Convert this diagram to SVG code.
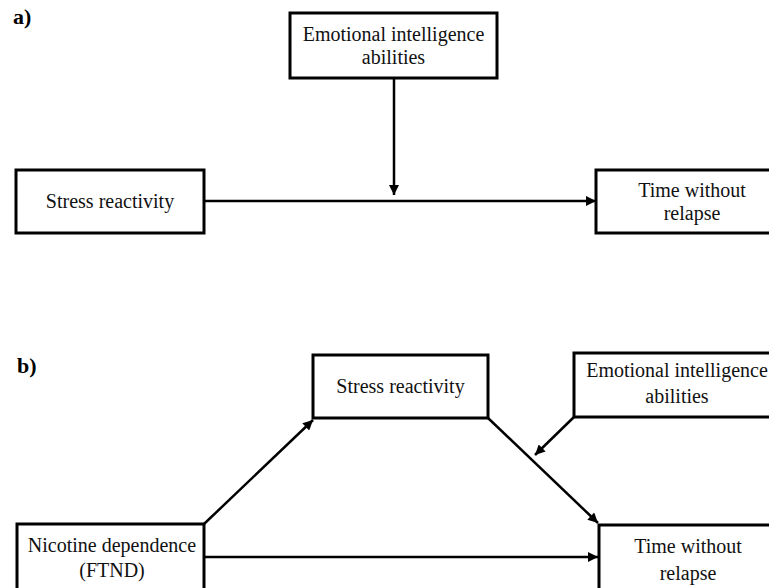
<svg xmlns="http://www.w3.org/2000/svg" width="769" height="588" viewBox="0 0 769 588">
<defs>
<style>
.box{fill:#fff;stroke:#000;stroke-width:3}
.t{font-family:"Liberation Serif","Times New Roman",serif;font-size:20px;fill:#111;text-anchor:middle}
.lbl{font-family:"Liberation Serif","Times New Roman",serif;font-size:22px;font-weight:bold;fill:#000}
.c{stroke:#000;stroke-width:2.5;fill:none;marker-end:url(#ah)}
</style>
<marker id="ah" viewBox="0 0 10 10" refX="10" refY="5" markerWidth="12" markerHeight="10" markerUnits="userSpaceOnUse" orient="auto">
<path d="M0,0 L10,5 L0,10 z" fill="#000"/>
</marker>
</defs>
<rect width="769" height="588" fill="#fff"/>
<text class="lbl" x="13" y="24">a)</text>
<text class="lbl" x="17" y="373">b)</text>
<g id="connectors">
<line class="c" x1="204" y1="201" x2="596" y2="201"/>
<line class="c" x1="394" y1="78" x2="394" y2="195"/>
<line class="c" x1="204" y1="524" x2="313" y2="420"/>
<line class="c" x1="488" y1="418" x2="598" y2="523"/>
<line class="c" x1="574" y1="417" x2="535" y2="455"/>
<line class="c" x1="204" y1="557" x2="598" y2="557"/>
</g>
<g id="a-ei">
<rect class="box" x="290" y="13" width="207" height="65"/>
<text class="t" x="393.5" y="41">Emotional intelligence</text>
<text class="t" x="393.5" y="64">abilities</text>
</g>
<g id="a-stress">
<rect class="box" x="16" y="170" width="188" height="63"/>
<text class="t" x="110" y="208">Stress reactivity</text>
</g>
<g id="a-time">
<rect class="box" x="596" y="170" width="190" height="63"/>
<text class="t" x="692" y="197">Time without</text>
<text class="t" x="692" y="220">relapse</text>
</g>
<g id="b-stress">
<rect class="box" x="313" y="355" width="175" height="63"/>
<text class="t" x="400.5" y="393">Stress reactivity</text>
</g>
<g id="b-ei">
<rect class="box" x="574" y="353" width="210" height="64"/>
<text class="t" x="677" y="377">Emotional intelligence</text>
<text class="t" x="677" y="403">abilities</text>
</g>
<g id="b-nicotine">
<rect class="box" x="17" y="524" width="187" height="70"/>
<text class="t" x="112" y="552">Nicotine dependence</text>
<text class="t" x="112" y="577">(FTND)</text>
</g>
<g id="b-time">
<rect class="box" x="599" y="525" width="190" height="70"/>
<text class="t" x="688" y="553">Time without</text>
<text class="t" x="688" y="580">relapse</text>
</g>
</svg>
